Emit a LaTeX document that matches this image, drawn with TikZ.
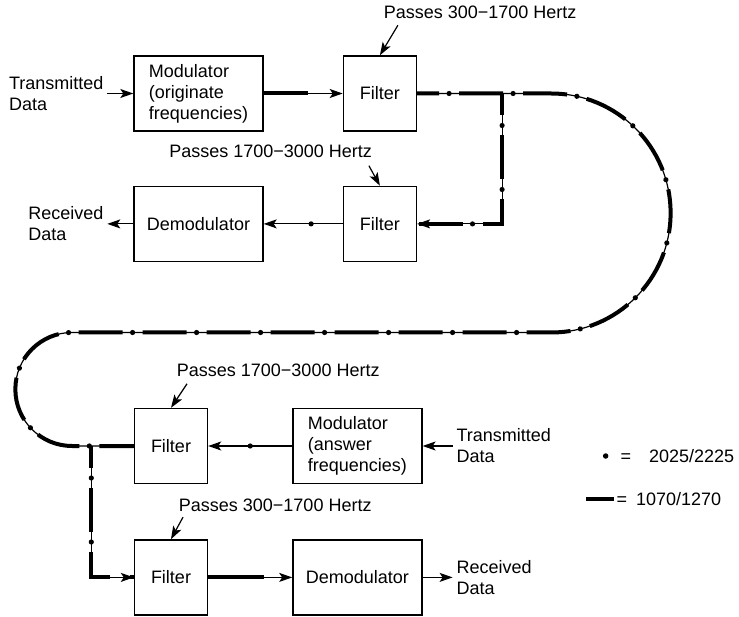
\documentclass[tikz,border=0pt]{standalone}
\usepackage{fontspec}
\setmainfont{Liberation Sans}
\usetikzlibrary{arrows.meta,positioning,calc,decorations.markings}

\begin{document}
\begin{tikzpicture}[x=1pt,y=-1pt,line width=1.2pt,
  font=\fontsize{18}{21}\selectfont,
  >={Stealth[length=13pt,width=9pt,inset=3pt]},
  block/.style={draw, line width=1.4pt, minimum height=75pt, inner sep=0pt, align=left},
  filterbox/.style={block, minimum width=73pt},
  modembox/.style={block, minimum width=129pt},
  hiband/.style={postaction={draw,-,line width=4pt,dash pattern=on #1 off 500pt}},
  loband/.style={postaction={decorate,decoration={markings,mark=at position #1 with {\fill (0,0) circle (2.6pt);}}}},
  both/.style={postaction={draw,-,line width=4pt,dash pattern=on 44pt off 20pt,dash phase=22pt},
    postaction={decorate,decoration={markings,mark=between positions 32pt and -16pt step 64pt with {\fill (0,0) circle (2.6pt);}}}},
  dot/.style={circle, fill, inner sep=0pt, minimum size=5.5pt}]
\useasboundingbox (0,0) rectangle (739,617);

% originating modem
\node[modembox] (mod1) at (198.5,93.5) {Modulator\\(originate\\frequencies)};
\node[filterbox, right=79pt of mod1] (filt1) {Filter};
\node[modembox, below=54pt of mod1] (demod1) {Demodulator};
\node[filterbox, right=79pt of demod1] (filt2) {Filter};
\node[align=left, left=26pt of mod1] (txin) {Transmitted\\Data};
\node[align=left, left=26pt of demod1] (rxout) {Received\\Data};
\node[anchor=south west] (p1) at ([yshift=33pt]filt1.north) {Passes 300−1700 Hertz};
\node[anchor=south east] (p2) at ([xshift=-4pt,yshift=24pt]filt2.north) {Passes 1700−3000 Hertz};

% answering modem
\node[filterbox] (filt3) at (171,446) {Filter};
\node[modembox, right=84pt of filt3] (mod2) {Modulator\\(answer\\frequencies)};
\node[filterbox, below=55pt of filt3] (filt4) {Filter};
\node[modembox, right=84pt of filt4] (demod2) {Demodulator};
\node[align=left, right=30pt of mod2] (txin2) {Transmitted\\Data};
\node[align=left, right=30pt of demod2] (rxout2) {Received\\Data};
\node[anchor=south west] (p3) at ([xshift=2pt,yshift=27pt]filt3.north) {Passes 1700−3000 Hertz};
\node[anchor=south west] (p4) at ([xshift=4pt,yshift=24pt]filt4.north) {Passes 300−1700 Hertz};

% key
\node[anchor=west, inner sep=0pt] (key1) at (620,456) {=\quad 2025/2225};
\node[dot, left=11pt of key1] (keydot) {};
\node[anchor=west, inner sep=0pt] (key2) at (616,499) {=\enspace 1070/1270};
\coordinate (keyend) at ([xshift=-30pt]key2.west);

% junctions
\path (filt1.east) ++(85,0) coordinate (j1);
\path (filt3.west) ++(-42.5,0) coordinate (j2);

\draw[->] (txin) -- (mod1);
\draw[->,hiband=44pt] (mod1) -- (filt1);
\draw[->,loband=0.4] (filt2) -- (demod1);
\draw[->] (demod1) -- (rxout);
\draw[->] (txin2) -- (mod2);
\draw[->,loband=0.5] (mod2) -- (filt3);
\draw[->,hiband=56pt] (filt4) -- (demod2);
\draw[->] (demod2) -- (rxout2);
\draw[->] ([xshift=18pt,yshift=-3pt]p1.south west) -- (filt1.north);
\draw[->] ([xshift=-7pt,yshift=-4pt]p2.south east) -- (filt2.north);
\draw[->] ([xshift=14pt,yshift=-3pt]p3.south west) -- (filt3.north);
\draw[->] ([xshift=8pt,yshift=-2pt]p4.south west) -- (filt4.north);

% telephone line
\draw[both] (filt1.east) -- ++(134,0) arc[start angle=90,end angle=-90,radius=119.5pt]
  -- ++(-479,0) arc[start angle=90,end angle=270,radius=56.75pt] -- (filt3.west);
\draw[both,->] (j1) |- (filt2);
\draw[both,->] (j2) |- (filt4);

\draw[line width=4pt] (keyend) -- ([xshift=-2pt]key2.west);

\end{tikzpicture}
\end{document}
